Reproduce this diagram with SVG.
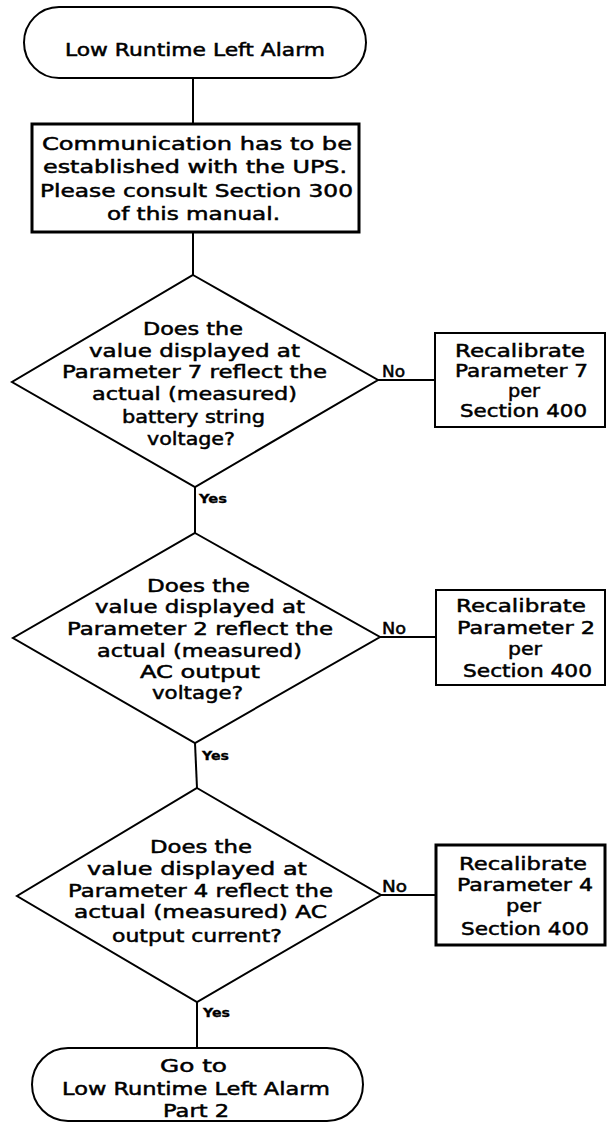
<svg xmlns="http://www.w3.org/2000/svg" width="607" height="1123" viewBox="0 0 607 1123">
  <style>
    .shape { fill: #ffffff; stroke: #000000; stroke-width: 2; }
    .thick { stroke-width: 3; }
    .link { fill: none; stroke: #000000; stroke-width: 2; }
    text { font-family: "DejaVu Sans", "Liberation Sans", sans-serif; fill: #000000; stroke: #000000; stroke-width: 0.5; }
    .t { font-size: 18px; }
    .no { font-size: 15px; }
    .yes { font-size: 12px; font-weight: bold; stroke-width: 0.3; }
  </style>
  <rect width="607" height="1123" fill="#ffffff"/>

  <!-- connectors -->
  <g id="connectors">
    <line class="link" x1="193" y1="78" x2="193" y2="124"/>
    <line class="link" x1="193" y1="232" x2="193" y2="275"/>
    <line class="link" x1="195" y1="487" x2="195" y2="533"/>
    <line class="link" x1="195" y1="743" x2="197" y2="788"/>
    <line class="link" x1="197" y1="1002" x2="197" y2="1048"/>
    <line class="link" x1="378" y1="380" x2="435" y2="380"/>
    <line class="link" x1="380" y1="637" x2="436" y2="637"/>
    <line class="link" x1="381" y1="895" x2="436" y2="895"/>
    <text class="no" x="382" y="377" textLength="23" lengthAdjust="spacingAndGlyphs">No</text>
    <text class="no" x="382" y="634" textLength="24" lengthAdjust="spacingAndGlyphs">No</text>
    <text class="no" x="382" y="892" textLength="25" lengthAdjust="spacingAndGlyphs">No</text>
    <text class="yes" x="199" y="503" textLength="28" lengthAdjust="spacingAndGlyphs">Yes</text>
    <text class="yes" x="202" y="760" textLength="27" lengthAdjust="spacingAndGlyphs">Yes</text>
    <text class="yes" x="203" y="1017" textLength="27" lengthAdjust="spacingAndGlyphs">Yes</text>
  </g>

  <!-- start terminator -->
  <g id="start">
    <rect class="shape" x="24" y="7" width="342" height="71" rx="35" ry="35.5"/>
    <text class="t" x="65" y="56" textLength="260" lengthAdjust="spacingAndGlyphs">Low Runtime Left Alarm</text>
  </g>

  <!-- communication step -->
  <g id="communication">
    <rect class="shape thick" x="32" y="124" width="327" height="108"/>
    <text class="t" x="42" y="150" textLength="310" lengthAdjust="spacingAndGlyphs">Communication has to be</text>
    <text class="t" x="43" y="173" textLength="304" lengthAdjust="spacingAndGlyphs">established with the UPS.</text>
    <text class="t" x="40" y="197" textLength="313" lengthAdjust="spacingAndGlyphs">Please consult Section 300</text>
    <text class="t" x="107" y="220" textLength="173" lengthAdjust="spacingAndGlyphs">of this manual.</text>
  </g>

  <!-- decision: parameter 7 -->
  <g id="decision-p7">
    <polygon class="shape" points="193,275 378,380 195,487 12,382"/>
    <text class="t" x="143" y="335" textLength="100" lengthAdjust="spacingAndGlyphs">Does the</text>
    <text class="t" x="89" y="357" textLength="211" lengthAdjust="spacingAndGlyphs">value displayed at</text>
    <text class="t" x="62" y="378" textLength="265" lengthAdjust="spacingAndGlyphs">Parameter 7 reflect the</text>
    <text class="t" x="92" y="400" textLength="205" lengthAdjust="spacingAndGlyphs">actual (measured)</text>
    <text class="t" x="122" y="423" textLength="143" lengthAdjust="spacingAndGlyphs">battery string</text>
    <text class="t" x="147" y="445" textLength="88" lengthAdjust="spacingAndGlyphs">voltage?</text>
  </g>

  <g id="recal-p7">
    <rect class="shape" x="435" y="333" width="170" height="94"/>
    <text class="t" x="455" y="357" textLength="130" lengthAdjust="spacingAndGlyphs">Recalibrate</text>
    <text class="t" x="455" y="377" textLength="133" lengthAdjust="spacingAndGlyphs">Parameter 7</text>
    <text class="t" x="508" y="397" textLength="32" lengthAdjust="spacingAndGlyphs">per</text>
    <text class="t" x="460" y="417" textLength="127" lengthAdjust="spacingAndGlyphs">Section 400</text>
  </g>

  <!-- decision: parameter 2 -->
  <g id="decision-p2">
    <polygon class="shape" points="195,533 380,637 195,743 13,638"/>
    <text class="t" x="147" y="592" textLength="103" lengthAdjust="spacingAndGlyphs">Does the</text>
    <text class="t" x="95" y="613" textLength="210" lengthAdjust="spacingAndGlyphs">value displayed at</text>
    <text class="t" x="67" y="635" textLength="266" lengthAdjust="spacingAndGlyphs">Parameter 2 reflect the</text>
    <text class="t" x="97" y="657" textLength="205" lengthAdjust="spacingAndGlyphs">actual (measured)</text>
    <text class="t" x="140" y="678" textLength="120" lengthAdjust="spacingAndGlyphs">AC output</text>
    <text class="t" x="152" y="699" textLength="91" lengthAdjust="spacingAndGlyphs">voltage?</text>
  </g>

  <g id="recal-p2">
    <rect class="shape" x="436" y="590" width="169" height="95"/>
    <text class="t" x="456" y="612" textLength="130" lengthAdjust="spacingAndGlyphs">Recalibrate</text>
    <text class="t" x="457" y="634" textLength="138" lengthAdjust="spacingAndGlyphs">Parameter 2</text>
    <text class="t" x="508" y="655" textLength="34" lengthAdjust="spacingAndGlyphs">per</text>
    <text class="t" x="463" y="677" textLength="129" lengthAdjust="spacingAndGlyphs">Section 400</text>
  </g>

  <!-- decision: parameter 4 -->
  <g id="decision-p4">
    <polygon class="shape" points="197,788 381,895 197,1002 17,896"/>
    <text class="t" x="150" y="853" textLength="102" lengthAdjust="spacingAndGlyphs">Does the</text>
    <text class="t" x="87" y="875" textLength="220" lengthAdjust="spacingAndGlyphs">value displayed at</text>
    <text class="t" x="68" y="897" textLength="265" lengthAdjust="spacingAndGlyphs">Parameter 4 reflect the</text>
    <text class="t" x="74" y="918" textLength="253" lengthAdjust="spacingAndGlyphs">actual (measured) AC</text>
    <text class="t" x="112" y="942" textLength="170" lengthAdjust="spacingAndGlyphs">output current?</text>
  </g>

  <g id="recal-p4">
    <rect class="shape thick" x="436" y="845" width="169" height="100"/>
    <text class="t" x="459" y="870" textLength="128" lengthAdjust="spacingAndGlyphs">Recalibrate</text>
    <text class="t" x="457" y="891" textLength="136" lengthAdjust="spacingAndGlyphs">Parameter 4</text>
    <text class="t" x="506" y="912" textLength="35" lengthAdjust="spacingAndGlyphs">per</text>
    <text class="t" x="461" y="935" textLength="128" lengthAdjust="spacingAndGlyphs">Section 400</text>
  </g>

  <!-- end terminator -->
  <g id="end">
    <rect class="shape" x="32" y="1048" width="331" height="73" rx="36" ry="36.5"/>
    <text class="t" x="160" y="1072" textLength="67" lengthAdjust="spacingAndGlyphs">Go to</text>
    <text class="t" x="62" y="1095" textLength="268" lengthAdjust="spacingAndGlyphs">Low Runtime Left Alarm</text>
    <text class="t" x="163" y="1117" textLength="66" lengthAdjust="spacingAndGlyphs">Part 2</text>
  </g>
</svg>
